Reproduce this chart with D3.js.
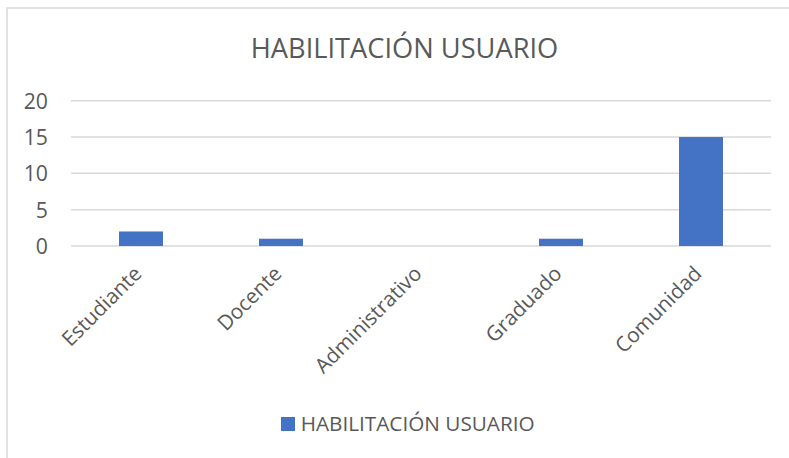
<!DOCTYPE html>
<html><head><meta charset="utf-8">
<script src="https://cdn.jsdelivr.net/npm/d3@7"></script>
<style>html,body{margin:0;padding:0;background:#fff;}svg{display:block;}</style>
</head><body>
<svg id="c" width="789" height="458"></svg>
<script>
const categories = ["Estudiante","Docente","Administrativo","Graduado","Comunidad"];
const values = [2, 1, 0, 1, 15];
const yTicks = [0, 5, 10, 15, 20];
const seriesName = "HABILITACIÓN USUARIO";
const chartTitle = "HABILITACIÓN USUARIO";

const svg = d3.select("#c");
const font = "'Open Sans', 'Noto Sans', sans-serif";
const txt = "#595959";

svg.append("rect").attr("x",7).attr("y",8).attr("width",800).attr("height",470)
  .attr("fill","#fff").attr("stroke","#d9d9d9").attr("stroke-width",1.5);

const x = d3.scaleBand().domain(categories).range([71, 771]).paddingInner(0.686).paddingOuter(0.343);
const y = d3.scaleLinear().domain([0, 20]).range([246, 100.7]);

// gridlines
svg.append("g").selectAll("line").data(yTicks).join("line")
  .attr("x1",71).attr("x2",771).attr("y1",d=>y(d)).attr("y2",d=>y(d))
  .attr("stroke","#d9d9d9").attr("stroke-width",1.5);

// y axis labels
const yAxis = d3.axisLeft(y).tickValues(yTicks).tickSize(0).tickPadding(0);
const ya = svg.append("g").attr("transform","translate(48,0)").call(yAxis);
ya.select(".domain").remove();
ya.selectAll("text").attr("font-family",font).attr("font-size",18.5).attr("fill",txt).attr("dy","0.35em");

// bars
svg.append("g").selectAll("rect").data(values).join("rect")
  .attr("x",(d,i)=>x(categories[i])).attr("width",x.bandwidth())
  .attr("y",d=>y(d)).attr("height",d=>y(0)-y(d))
  .attr("fill","#4472c4");

// x labels
const xAxis = d3.axisBottom(x).tickSize(0).tickPadding(0);
const xa = svg.append("g").attr("transform","translate(0,246)").call(xAxis);
xa.select(".domain").remove();
xa.selectAll("text").attr("font-family",font).attr("font-size",18.5).attr("fill",txt)
  .attr("text-anchor","end").attr("dy",null).attr("y",0)
  .attr("transform","translate(2,29) rotate(-45)");

// title
const t = svg.append("text").attr("x",404.5).attr("y",58.3).attr("text-anchor","middle")
  .attr("font-family",font).attr("font-size",24.5).attr("fill",txt).text(chartTitle);
const tw = t.node().getComputedTextLength();
t.attr("font-size", 24.5*307.6/tw);

// legend
svg.append("rect").attr("x",281).attr("y",417).attr("width",14).attr("height",14).attr("fill","#4472c4");
const l = svg.append("text").attr("x",300.7).attr("y",430.7)
  .attr("font-family",font).attr("font-size",18.5).attr("fill",txt).text(seriesName);
const lw = l.node().getComputedTextLength();
const lfs = 18.5*234/lw;
l.attr("font-size", lfs);
ya.selectAll("text").attr("font-size", lfs + 0.5);
xa.selectAll("text").attr("font-size", lfs);
</script>
</body></html>
